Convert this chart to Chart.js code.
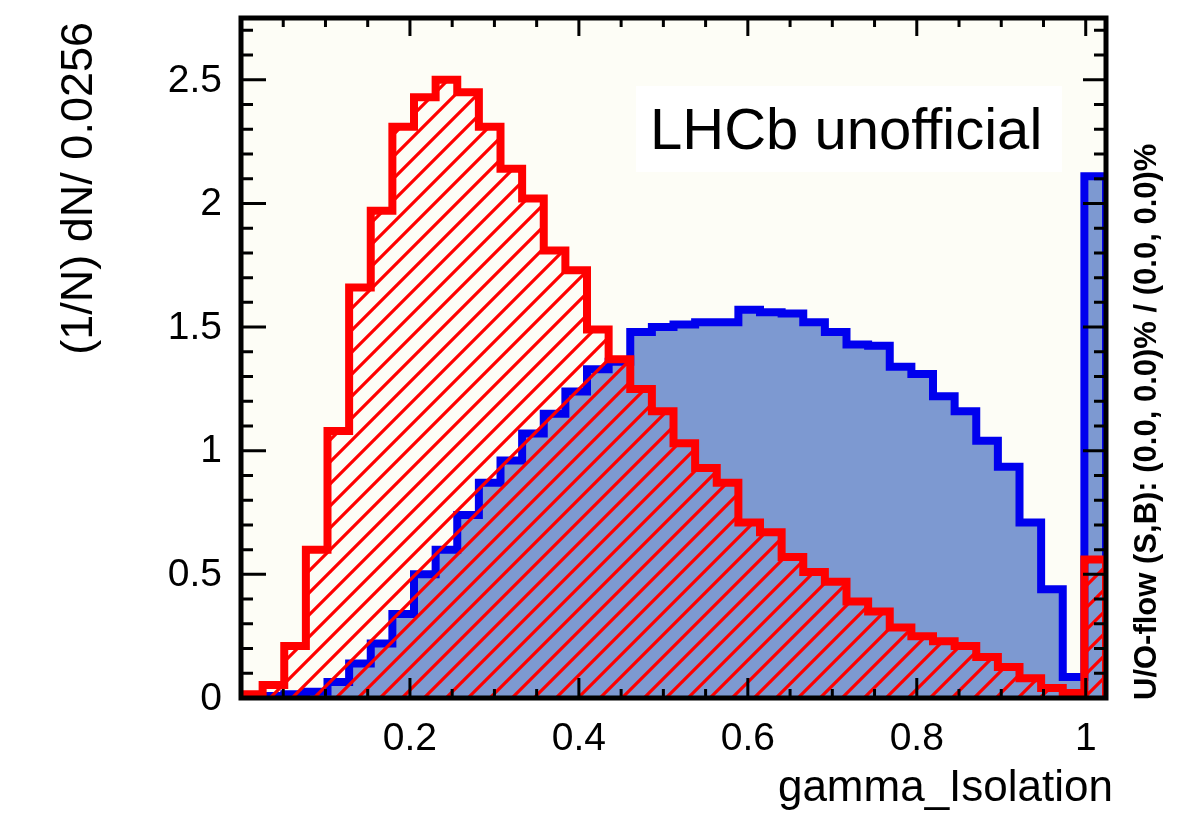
<!DOCTYPE html>
<html>
<head>
<meta charset="utf-8">
<script src="https://cdn.jsdelivr.net/npm/chart.js@4.4.0/dist/chart.umd.min.js"></script>
<style>
  html, body { margin: 0; padding: 0; background: #ffffff; }
  #wrap { width: 1189px; height: 816px; }
</style>
</head>
<body>
<div id="wrap"><canvas id="c" width="1189" height="816"></canvas></div>
<script>
// Histogram binning: 40 bins of width 0.0256 starting at 0
const binWidth = 0.0256;

// Normalised densities per bin, (1/N) dN / 0.0256
const signalValues = [
  0.004, 0.008, 0.015, 0.025, 0.065, 0.14, 0.22, 0.34, 0.50, 0.60,
  0.74, 0.87, 0.96, 1.07, 1.15, 1.24, 1.33, 1.36, 1.48, 1.50,
  1.51, 1.52, 1.52, 1.57, 1.56, 1.555, 1.52, 1.48, 1.43, 1.425,
  1.34, 1.31, 1.22, 1.16, 1.04, 0.935, 0.71, 0.44, 0.085, 2.11
];
const backgroundValues = [
  0.015, 0.053, 0.21, 0.60, 1.08, 1.66, 1.97, 2.31, 2.43, 2.50,
  2.45, 2.31, 2.14, 2.02, 1.81, 1.73, 1.49, 1.37, 1.25, 1.16,
  1.03, 0.93, 0.87, 0.71, 0.67, 0.57, 0.51, 0.47, 0.39, 0.35,
  0.285, 0.25, 0.23, 0.21, 0.166, 0.125, 0.08, 0.04, 0.02, 0.56
];

// Axis labelling
const xTickValues = [0.2, 0.4, 0.6, 0.8, 1.0];
const xTickLabels = ['0.2', '0.4', '0.6', '0.8', '1'];
const yTickValues = [0, 0.5, 1, 1.5, 2, 2.5];
const yTickLabels = ['0', '0.5', '1', '1.5', '2', '2.5'];
const xTitle = 'gamma_Isolation';
const yTitle = '(1/N) dN/ 0.0256';
const overflowText = 'U/O-flow (S,B): (0.0, 0.0)% / (0.0, 0.0)%';
const stampText = 'LHCb unofficial';

const FONT = "'Liberation Sans', Arial, Helvetica, sans-serif";

// Turn bin contents into a closed step outline (left edges + right end)
function histPoints(values) {
  const pts = [{ x: 0, y: 0 }];
  values.forEach((v, i) => pts.push({ x: i * binWidth, y: v }));
  const xEnd = values.length * binWidth;
  pts.push({ x: xEnd, y: values[values.length - 1] });
  pts.push({ x: xEnd, y: 0 });
  return pts;
}

// Diagonal "/" hatching used for the background histogram
function hatchPattern(ctx, color) {
  const n = 22;
  const c = document.createElement('canvas');
  c.width = n; c.height = n;
  const g = c.getContext('2d');
  g.strokeStyle = color;
  g.lineWidth = 3.2;
  g.beginPath();
  for (const k of [-n, 0, n]) {
    g.moveTo(k - 3, n + 3);
    g.lineTo(k + n + 3, -3);
  }
  g.stroke();
  return ctx.createPattern(c, 'repeat');
}

// Frame, ticks on all four sides, labels and text boxes
const rootFrame = {
  id: 'rootFrame',
  beforeDraw(chart) {
    const { ctx, chartArea: a } = chart;
    ctx.save();
    ctx.fillStyle = '#ffffff';
    ctx.fillRect(0, 0, chart.width, chart.height);
    ctx.fillStyle = '#fdfdf6';
    ctx.fillRect(a.left, a.top, a.right - a.left, a.bottom - a.top);
    ctx.restore();
  },
  afterDatasetsDraw(chart) {
    const { ctx, chartArea: a } = chart;
    const xs = chart.scales.x, ys = chart.scales.y;
    ctx.save();
    ctx.strokeStyle = '#000000';
    ctx.lineCap = 'butt';
    ctx.lineWidth = 3;
    ctx.beginPath();
    for (let k = 1; k <= 20; k++) {
      const v = k * 0.05;
      const major = k % 4 === 0;
      const px = xs.getPixelForValue(v);
      ctx.moveTo(px, a.bottom);
      ctx.lineTo(px, a.bottom - (major ? 20 : 9));
      ctx.moveTo(px, a.top);
      ctx.lineTo(px, a.top + (major ? 18 : 9));
    }
    for (let k = 1; k <= 27; k++) {
      const v = k * 0.1;
      const major = k % 5 === 0;
      const py = ys.getPixelForValue(v);
      ctx.moveTo(a.left, py);
      ctx.lineTo(a.left + (major ? 25 : 12), py);
      ctx.moveTo(a.right, py);
      ctx.lineTo(a.right - (major ? 23 : 12), py);
    }
    ctx.stroke();
    ctx.lineWidth = 5;
    ctx.strokeRect(a.left, a.top, a.right - a.left, a.bottom - a.top);
    ctx.restore();
  },
  afterDraw(chart) {
    const { ctx } = chart;
    const xs = chart.scales.x, ys = chart.scales.y;
    ctx.save();
    ctx.fillStyle = '#000000';

    // tick labels
    ctx.font = '39px ' + FONT;
    ctx.textAlign = 'center';
    ctx.textBaseline = 'alphabetic';
    xTickValues.forEach((v, i) => {
      ctx.fillText(xTickLabels[i], xs.getPixelForValue(v), 750);
    });
    ctx.textAlign = 'right';
    ctx.textBaseline = 'middle';
    yTickValues.forEach((v, i) => {
      ctx.fillText(yTickLabels[i], 222, ys.getPixelForValue(v) + 1);
    });

    // axis titles
    ctx.font = '44px ' + FONT;
    ctx.textAlign = 'right';
    ctx.textBaseline = 'alphabetic';
    ctx.fillText(xTitle, 1113, 801);

    ctx.save();
    ctx.translate(92, 22);
    ctx.rotate(-Math.PI / 2);
    ctx.font = '45px ' + FONT;
    ctx.textAlign = 'right';
    ctx.fillText(yTitle, 0, 0);
    ctx.restore();

    // under/overflow note along the right edge
    ctx.save();
    ctx.translate(1156, 700);
    ctx.rotate(-Math.PI / 2);
    ctx.font = 'bold 31px ' + FONT;
    ctx.textAlign = 'left';
    ctx.fillText(overflowText, 0, 0);
    ctx.restore();

    // experiment stamp
    ctx.fillStyle = '#ffffff';
    ctx.fillRect(636, 86, 426, 86);
    ctx.fillStyle = '#000000';
    ctx.font = '58px ' + FONT;
    ctx.textAlign = 'left';
    ctx.fillText(stampText, 650, 149);
    ctx.restore();
  }
};

const canvas = document.getElementById('c');
const ctx2d = canvas.getContext('2d');

new Chart(ctx2d, {
  type: 'line',
  data: {
    datasets: [
      {
        label: 'Background',
        data: histPoints(backgroundValues),
        stepped: true,
        borderColor: '#ff0000',
        borderWidth: 8,
        backgroundColor: hatchPattern(ctx2d, '#ff0000'),
        fill: 'origin',
        pointRadius: 0,
        clip: 0,
        order: 0
      },
      {
        label: 'Signal',
        data: histPoints(signalValues),
        stepped: true,
        borderColor: '#0000ee',
        borderWidth: 8,
        backgroundColor: '#7d99d1',
        fill: 'origin',
        pointRadius: 0,
        clip: 0,
        order: 1
      }
    ]
  },
  options: {
    responsive: false,
    animation: false,
    devicePixelRatio: 1,
    layout: { padding: { left: 241, top: 18, right: 83, bottom: 118 } },
    scales: {
      x: { type: 'linear', min: 0, max: 1.024, display: false },
      y: { type: 'linear', min: 0, max: 2.75, display: false }
    },
    plugins: {
      legend: { display: false },
      tooltip: { enabled: false }
    },
    elements: { line: { tension: 0, borderJoinStyle: 'miter', borderCapStyle: 'butt' } }
  },
  plugins: [rootFrame]
});
</script>
</body>
</html>
